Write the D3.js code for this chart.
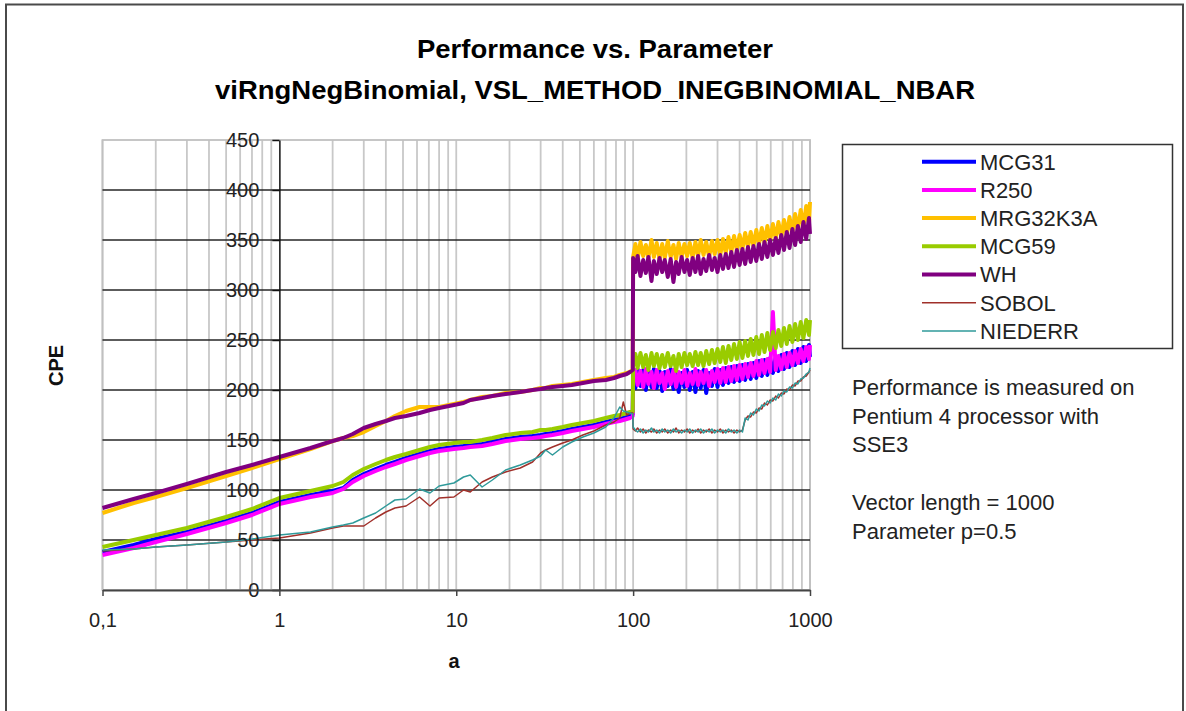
<!DOCTYPE html>
<html><head><meta charset="utf-8">
<script src="https://cdn.jsdelivr.net/npm/d3@7"></script>
<style>body{margin:0;background:#fff}svg{display:block}</style>
</head><body>
<svg id="c" width="1186" height="711"></svg>
<script>
// ---- DATA ----
const seriesNames = ["MCG31","R250","MRG32K3A","MCG59","WH","SOBOL","NIEDERR"];
const yTicks = [0,50,100,150,200,250,300,350,400,450];
const xTicks = [0.1,1,10,100,1000];
const xTickLabels = ["0,1","1","10","100","1000"];

const aLow = [0.1,0.15,0.2,0.3,0.5,0.7,1,1.5,2,2.3,
  2.6,3,3.5,4,4.5,5.2,6.2,7.1,8,9.7,
  11,12,14,16,19,23,27,30,32,35,
  40,45,52,60,70,78,84,88,92,96,
  99.5];
const aHigh = [100,103,106,110,114,118,122,127,131,136,
  141,146,151,157,163,169,175,181,188,195,
  202,209,217,225,233,241,250,259,269,279,
  289,300,311,322,334,346,359,372,386,400,
  415,430,446,462,479,497,515,534,553,574,
  595,617,640,663,688,713,739,766,795,824,
  854,886,918,952,987,1000];

const mcg31Low = [38,45,51,58,69,77,88,95,99,102,
  110,116,121,125,128,132,136,139,141,143,
  144,145,146,148,151,153,154,155,156,157,
  159,161,163,165,168,170,171,172,173,174,
  176];
const mcg31High = [218,202,221,204,220,200,219,203,221,202,
  219,199,218,204,221,201,219,198,217,203,
  220,200,218,198,219,202,220,197,217,204,
  221,203,220,205,222,207,223,208,224,209,
  225,210,226,211,227,212,229,214,230,215,
  232,217,233,219,235,221,237,223,239,225,
  241,227,243,229,245,233];

const r250Low = [35,42,48,56,67,75,86,93,97,101,
  108,114,119,123,126,130,134,137,139,141,
  142,143,144,146,149,151,152,153,154,155,
  157,159,161,163,166,168,169,170,171,172,
  174];
const r250High = [208,220,205,219,203,221,206,218,202,220,
  207,217,201,219,206,220,203,218,207,220,
  204,217,206,221,205,218,207,220,204,219,
  208,221,207,222,208,223,209,224,210,225,
  211,226,213,227,214,229,215,230,217,231,
  218,278,220,234,221,236,223,237,225,239,
  227,241,229,243,231,245];

const mrgLow = [77,87,93,102,114,122,131,141,149,152,
  154,158,164,169,174,179,183,183,183,186,
  188,190,193,194,197,198,200,202,202,204,
  205,206,208,210,212,213,215,216,217,218,
  221];
const mrgHigh = [333,346,331,348,334,345,332,350,333,347,
  331,346,332,349,333,345,331,347,333,346,
  334,347,332,348,334,350,335,348,333,349,
  336,350,335,351,337,353,338,354,340,355,
  341,357,343,358,344,360,346,362,347,364,
  349,366,351,368,353,370,355,373,357,376,
  360,380,363,384,366,388];

const mcg59Low = [43,50,55,62,73,81,92,99,104,108,
  115,121,126,130,133,136,140,143,145,147,
  148,148,150,152,155,157,158,160,160,161,
  163,165,167,169,172,174,175,176,177,178,
  178];
const mcg59High = [224,236,222,237,223,235,220,237,224,236,
  222,235,223,237,224,234,219,236,223,237,
  225,236,224,238,225,237,224,239,226,240,
  227,241,228,243,227,244,230,246,231,248,
  232,249,234,251,235,253,236,255,238,257,
  240,258,242,260,244,262,246,264,248,266,
  250,268,252,270,255,270];

const whLow = [82,91,97,106,118,125,133,142,149,152,
  156,162,166,169,172,174,177,180,182,185,
  187,190,192,194,196,198,200,201,202,203,
  204,205,207,209,210,212,214,215,216,218,
  220];
const whHigh = [332,318,334,314,330,317,333,309,329,316,
  332,318,330,313,331,308,328,316,333,318,
  330,315,332,318,334,316,331,319,335,320,
  332,318,335,321,336,322,338,323,340,325,
  341,326,343,328,344,329,346,331,348,333,
  350,335,352,337,355,340,358,342,361,345,
  364,348,368,351,372,356];

const sobolLow = [39,41,43,45,48,50,52,57,62,64,
  64,64,72,78,82,84,93,84,92,93,
  100,98,108,113,118,122,128,137,140,143,
  147,150,155,159,165,168,172,188,175,177,
  177];
const sobolHigh = [161,159,162,158,161,157,160,158,161,157,
  160,158,161,157,160,158,162,157,160,158,
  161,157,160,158,161,157,160,158,161,157,
  160,158,161,157,160,158,160,157,160,158,
  160,170,174,173,178,177,182,181,187,185,
  190,189,194,192,197,196,201,200,205,204,
  209,209,213,214,218,220];

const niederrLow = [40,41,43,45,48,51,55,58,63,65,
  67,72,77,84,90,91,101,97,104,107,
  113,115,103,110,120,125,130,134,140,135,
  143,148,153,157,163,172,183,179,178,177,
  176];
const niederrHigh = [163,160,158,161,157,160,158,162,158,160,
  157,161,158,160,157,161,158,160,157,160,
  158,161,157,160,158,161,157,160,158,161,
  157,160,158,160,157,161,158,160,157,160,
  158,172,170,177,175,181,179,185,184,189,
  187,192,190,196,194,199,198,203,202,207,
  206,211,212,216,218,222];

const lowValues = [mcg31Low, r250Low, mrgLow, mcg59Low, whLow, sobolLow, niederrLow];
const highValues = [mcg31High, r250High, mrgHigh, mcg59High, whHigh, sobolHigh, niederrHigh];
const colors = ["#0000ff","#ff00ff","#ffc000","#99cc00","#800080","#a0302a","#2f9a9a"];
const widths = [4,4,4,4,4,1.5,1.5];
const noteLines = ["Performance is measured on","Pentium 4 processor with","SSE3","","Vector length = 1000","Parameter p=0.5"];

// ---- DRAW ----
const font = "'Liberation Sans', Arial, Helvetica, sans-serif";
const svg = d3.select("#c").style("font-family", font);
svg.append("rect").attr("width",1186).attr("height",711).attr("fill","#fff");
svg.append("rect").attr("x",6).attr("y",4.5).attr("width",1177).attr("height",740)
  .attr("fill","none").attr("stroke","#4a4a4a").attr("stroke-width",2);

const x = d3.scaleLog().domain([0.1,1000]).range([102.5,810]);
const y = d3.scaleLinear().domain([0,450]).range([590,140]);

// vertical gridlines
svg.append("g").selectAll("line").data(x.ticks().filter(d => Math.abs(d-1) > 1e-9))
  .join("line")
  .attr("x1", d => x(d)).attr("x2", d => x(d))
  .attr("y1", y(0)).attr("y2", y(450))
  .attr("stroke","#c8c8c8").attr("stroke-width",1.8);

// plot border
svg.append("rect").attr("x",x(0.1)).attr("y",y(450))
  .attr("width",x(1000)-x(0.1)).attr("height",y(0)-y(450))
  .attr("fill","none").attr("stroke","#c0c0c0").attr("stroke-width",1.8);

// horizontal gridlines
svg.append("g").selectAll("line").data(yTicks.filter(d => d>0 && d<450))
  .join("line")
  .attr("x1", x(0.1)).attr("x2", x(1000))
  .attr("y1", d => y(d)).attr("y2", d => y(d))
  .attr("stroke","#262626").attr("stroke-width",1.6);

// series
const line = d3.line().x(d => x(d[0])).y(d => y(d[1]));
seriesNames.forEach((name, i) => {
  const pts = aLow.map((a, j) => [a, lowValues[i][j]])
    .concat(aHigh.map((a, j) => [a, highValues[i][j]]))
    .filter(p => p[1] !== undefined);
  svg.append("path").datum(pts)
    .attr("d", line).attr("fill","none")
    .attr("stroke", colors[i]).attr("stroke-width", widths[i])
    .attr("stroke-linejoin","round");
});

// y axis at x=1
const yAxis = svg.append("g").attr("transform", `translate(${x(1)},0)`)
  .call(d3.axisLeft(y).tickValues(yTicks).tickSize(7).tickSizeOuter(0).tickPadding(13));
yAxis.select(".domain").attr("stroke","#111").attr("stroke-width",1.5);
yAxis.selectAll(".tick line").attr("stroke","#111").attr("stroke-width",1.5);
yAxis.selectAll("text").attr("font-size",20).attr("fill","#222").style("font-family",font);

// x axis at y=0
const xAxis = svg.append("g").attr("transform", `translate(0,${y(0)})`)
  .call(d3.axisBottom(x).tickValues(xTicks).tickFormat((d,i) => xTickLabels[i])
    .tickSize(6).tickSizeOuter(0).tickPadding(17));
xAxis.select(".domain").attr("stroke","#444").attr("stroke-width",2);
xAxis.selectAll(".tick line").attr("stroke","#444").attr("stroke-width",1.5);
xAxis.selectAll("text").attr("font-size",20).attr("fill","#222").style("font-family",font);

// axis titles
svg.append("text").attr("x",454).attr("y",668).attr("text-anchor","middle")
  .attr("font-size",20).attr("font-weight","bold").attr("fill","#111").text("a");
svg.append("text").attr("transform","translate(63,365.5) rotate(-90)").attr("text-anchor","middle")
  .attr("font-size",20).attr("font-weight","bold").attr("fill","#111").text("CPE");

// chart title
svg.append("text").attr("x",595).attr("y",57.5).attr("text-anchor","middle")
  .attr("font-size",25).attr("font-weight","bold").attr("fill","#000")
  .attr("textLength",356).attr("lengthAdjust","spacingAndGlyphs")
  .text("Performance vs. Parameter");
svg.append("text").attr("x",595).attr("y",99).attr("text-anchor","middle")
  .attr("font-size",25).attr("font-weight","bold").attr("fill","#000")
  .attr("textLength",760).attr("lengthAdjust","spacingAndGlyphs")
  .text("viRngNegBinomial, VSL_METHOD_INEGBINOMIAL_NBAR");

// legend
svg.append("rect").attr("x",842.5).attr("y",144.5).attr("width",330).attr("height",204)
  .attr("fill","#fff").attr("stroke","#333").attr("stroke-width",1.5);
const lg = svg.append("g").selectAll("g").data(seriesNames).join("g")
  .attr("transform", (d,i) => `translate(0,${161.7 + i*28.2})`);
lg.append("line").attr("x1",922).attr("x2",976).attr("y1",0).attr("y2",0)
  .attr("stroke",(d,i)=>colors[i]).attr("stroke-width",(d,i)=>widths[i]);
lg.append("text").attr("x",980).attr("y",0).attr("dy","0.36em")
  .attr("font-size",22).attr("fill","#222").text(d => d);

// note
svg.append("g").selectAll("text").data(noteLines).join("text")
  .attr("x",852).attr("y",(d,i) => 395 + i*28.7)
  .attr("font-size",22).attr("fill","#222").text(d => d);
</script>
</body></html>
